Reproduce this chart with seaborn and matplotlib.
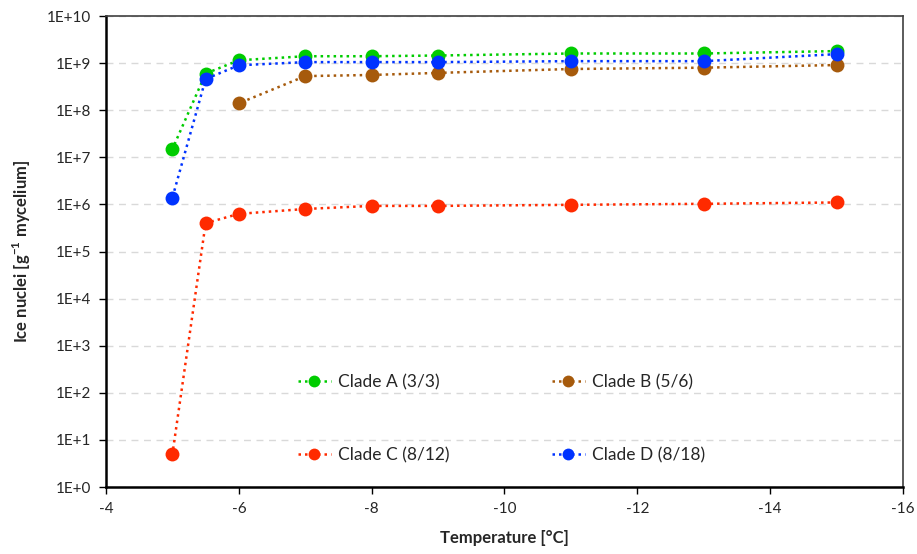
import numpy as np
import pandas as pd
import matplotlib
matplotlib.use("Agg")
import matplotlib.pyplot as plt
import seaborn as sns
from matplotlib.ticker import FixedLocator, FuncFormatter, NullLocator

sns.set_style("white")
plt.rcParams['font.family'] = ['Lato', 'DejaVu Sans']
plt.rcParams['mathtext.fontset'] = 'custom'
plt.rcParams['mathtext.rm'] = 'Lato'
plt.rcParams['mathtext.bf'] = 'Lato:bold'

# -----------------------------------------------------------------
# DATA
# -----------------------------------------------------------------
temp_a = [-5, -5.5, -6, -7, -8, -9, -11, -13, -15]
clade_a = [1.5e7, 6.0e8, 1.15e9, 1.4e9, 1.4e9, 1.45e9, 1.6e9, 1.6e9, 1.8e9]

temp_b = [-6, -7, -8, -9, -11, -13, -15]
clade_b = [1.4e8, 5.3e8, 5.6e8, 6.2e8, 7.5e8, 8.0e8, 9.1e8]

temp_c = [-5, -5.5, -6, -7, -8, -9, -11, -13, -15]
clade_c = [5.0, 4.0e5, 6.3e5, 8.0e5, 9.3e5, 9.3e5, 9.8e5, 1.03e6, 1.1e6]

temp_d = [-5, -5.5, -6, -7, -8, -9, -11, -13, -15]
clade_d = [1.4e6, 4.6e8, 9.0e8, 1.05e9, 1.05e9, 1.05e9, 1.1e9, 1.1e9, 1.55e9]

labels = ['Clade A (3/3)', 'Clade B (5/6)', 'Clade C (8/12)', 'Clade D (8/18)']
colors = ['#00CC00', '#A65A0C', '#FF2A00', '#0033FF']
x_ticks = [-4, -6, -8, -10, -12, -14, -16]
y_ticks = [10.0 ** k for k in range(0, 11)]

series = [(temp_a, clade_a), (temp_b, clade_b), (temp_c, clade_c), (temp_d, clade_d)]

# -----------------------------------------------------------------
# FIGURE
# -----------------------------------------------------------------
fig = plt.figure(figsize=(9.17, 5.54), dpi=100)
ax = fig.add_axes([0.1156, 0.1209, 0.8691, 0.8502])

for (xs, ys), lab, col in zip(series, labels, colors):
    sns.lineplot(x=xs, y=ys, ax=ax, color=col, label=lab, marker='o',
                 markersize=10, markeredgewidth=0, linewidth=1.8,
                 linestyle=(0, (1, 1.6)), legend=False, zorder=3)

ax.set_yscale('log')
ax.set_ylim(1, 1e10)
ax.set_xlim(-4, -16)

ax.yaxis.set_major_locator(FixedLocator(y_ticks))
ax.yaxis.set_minor_locator(NullLocator())
ax.yaxis.set_major_formatter(FuncFormatter(lambda v, p: f"1E+{int(round(np.log10(v)))}"))
ax.set_xticks(x_ticks)
ax.set_xticklabels([str(t) for t in x_ticks])

ax.grid(axis='y', color='#d9d9d9', linestyle=(0, (5, 4)), linewidth=1)
ax.grid(axis='x', visible=False)

ax.tick_params(axis='both', direction='out', length=5, width=1, color='black',
               labelsize=11, pad=6, left=True, bottom=True)
ax.tick_params(axis='x', pad=6)

for side in ['left', 'bottom']:
    ax.spines[side].set_color('black')
    ax.spines[side].set_linewidth(1.8)
for side in ['top', 'right']:
    ax.spines[side].set_color('#404040')
    ax.spines[side].set_linewidth(1.2)

ax.set_xlabel('Temperature [°C]', fontsize=12, fontweight='bold', labelpad=10)
ax.set_ylabel(r'Ice nuclei [g$^{\mathbf{-1}}$ mycelium]', fontsize=12,
              fontweight='bold', labelpad=10)

# legend: two columns, rows A/B and C/D
lines = ax.get_lines()
order = [0, 2, 1, 3]
ax.legend([lines[i] for i in order], [labels[i] for i in order], ncol=2,
          frameon=False, fontsize=12.5, loc='upper left', markerscale=0.85,
          bbox_to_anchor=(298 / 917, 1 - 374 / 554), bbox_transform=fig.transFigure,
          borderpad=0, borderaxespad=0, handlelength=1.9, handletextpad=0.4,
          labelspacing=3.3, columnspacing=5.9)

fig.savefig('out.png', dpi=100)
